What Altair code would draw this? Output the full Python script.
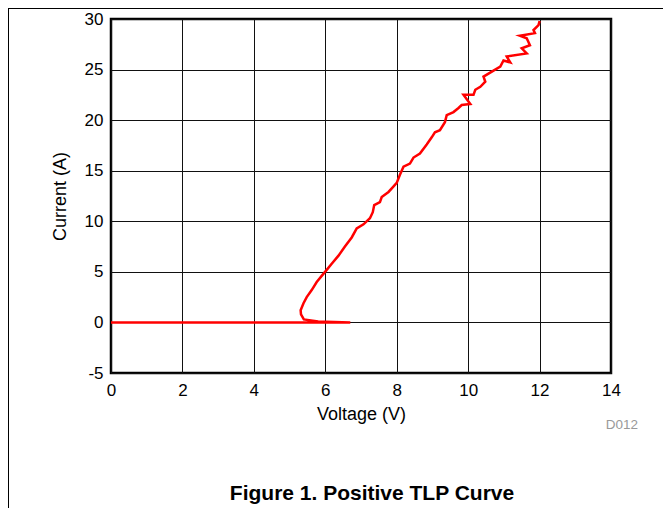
import altair as alt
import pandas as pd

voltage = [0, 6.7, 5.8, 5.4, 5.32, 5.31, 5.39, 5.48, 5.62, 5.76, 5.9, 6.04, 6.18, 6.37, 6.55,
           6.74, 6.88, 7.07, 7.25, 7.33, 7.37, 7.53, 7.58, 7.77, 7.9, 8.0, 8.09, 8.19, 8.37,
           8.47, 8.65, 8.84, 8.98, 9.07, 9.21, 9.35, 9.4, 9.59, 9.73, 9.82, 10.06, 9.87,
           10.15, 10.2, 10.34, 10.48, 10.43, 10.71, 10.9, 10.99, 11.18, 11.08, 11.64, 11.5,
           11.73, 11.64, 11.45, 11.87, 11.83, 11.97, 12.0]
current = [0, 0, 0.1, 0.3, 0.8, 1.2, 1.9, 2.5, 3.2, 4.0, 4.6, 5.2, 5.8, 6.6, 7.5,
           8.4, 9.3, 9.7, 10.3, 10.9, 11.6, 11.9, 12.4, 12.9, 13.4, 13.8, 14.6, 15.4, 15.7,
           16.3, 16.7, 17.6, 18.3, 18.8, 19.0, 19.8, 20.5, 20.8, 21.2, 21.5, 21.6, 22.5,
           22.5, 23.0, 23.3, 23.8, 24.3, 24.9, 25.3, 25.9, 25.7, 26.3, 26.6, 27.1,
           27.4, 28.1, 28.35, 28.6, 28.9, 29.4, 29.8]
x_ticks = [0, 2, 4, 6, 8, 10, 12, 14]
y_ticks = [-5, 0, 5, 10, 15, 20, 25, 30]

df = pd.DataFrame({"V": voltage, "I": current, "idx": list(range(len(voltage)))})
FONT = "Arial, Liberation Sans"

line = alt.Chart(df).mark_line(color="#ff0000", strokeWidth=2.5, clip=True).encode(
    x=alt.X("V:Q", scale=alt.Scale(domain=[0, 14], nice=False),
            axis=alt.Axis(values=x_ticks, title="Voltage (V)", titleX=250, titleY=41,
                          titleBaseline="middle", labelFlush=False, labelPadding=9,
                          labelExpr="toString(datum.value)")),
    y=alt.Y("I:Q", scale=alt.Scale(domain=[-5, 30], nice=False),
            axis=alt.Axis(values=y_ticks, title="Current (A)", titleX=-51, titleY=177,
                          titleAngle=-90, titleBaseline="middle", titleAlign="center",
                          labelFlush=False, labelPadding=8,
                          labelExpr="toString(datum.value)")),
    order="idx:Q",
)

dummy = pd.DataFrame({"a": [0]})
caption = alt.Chart(dummy).mark_text(font=FONT, fontSize=21, fontWeight="bold",
                                     color="black", align="center", baseline="middle").encode(
    x=alt.value(261), y=alt.value(475), text=alt.value("Figure 1. Positive TLP Curve"))
code = alt.Chart(dummy).mark_text(font=FONT, fontSize=13.5, color="#999999",
                                  align="center", baseline="middle").encode(
    x=alt.value(511), y=alt.value(406), text=alt.value("D012"))
left_border = alt.Chart(dummy).mark_rule(color="black", strokeWidth=1).encode(
    x=alt.value(-102.5), y=alt.value(-11), y2=alt.value(489))
top_border = alt.Chart(dummy).mark_rule(color="black", strokeWidth=1).encode(
    x=alt.value(-103), x2=alt.value(560), y=alt.value(-10.5))

chart = alt.layer(line, caption, code, left_border, top_border).properties(
    width=500, height=354,
    autosize=alt.AutoSizeParams(type="none"),
    padding={"left": 103, "top": 11, "right": 52, "bottom": 135},
).configure_view(
    stroke="black", strokeWidth=2.5
).configure_axis(
    grid=True, gridColor="#111111", gridWidth=1, gridOpacity=1,
    domain=False, ticks=False,
    labelFont=FONT, labelFontSize=17, labelColor="black",
    titleFont=FONT, titleFontSize=18, titleFontWeight="normal", titleColor="black",
)

chart.save("out.html", embed_options={"renderer": "svg", "actions": False})
